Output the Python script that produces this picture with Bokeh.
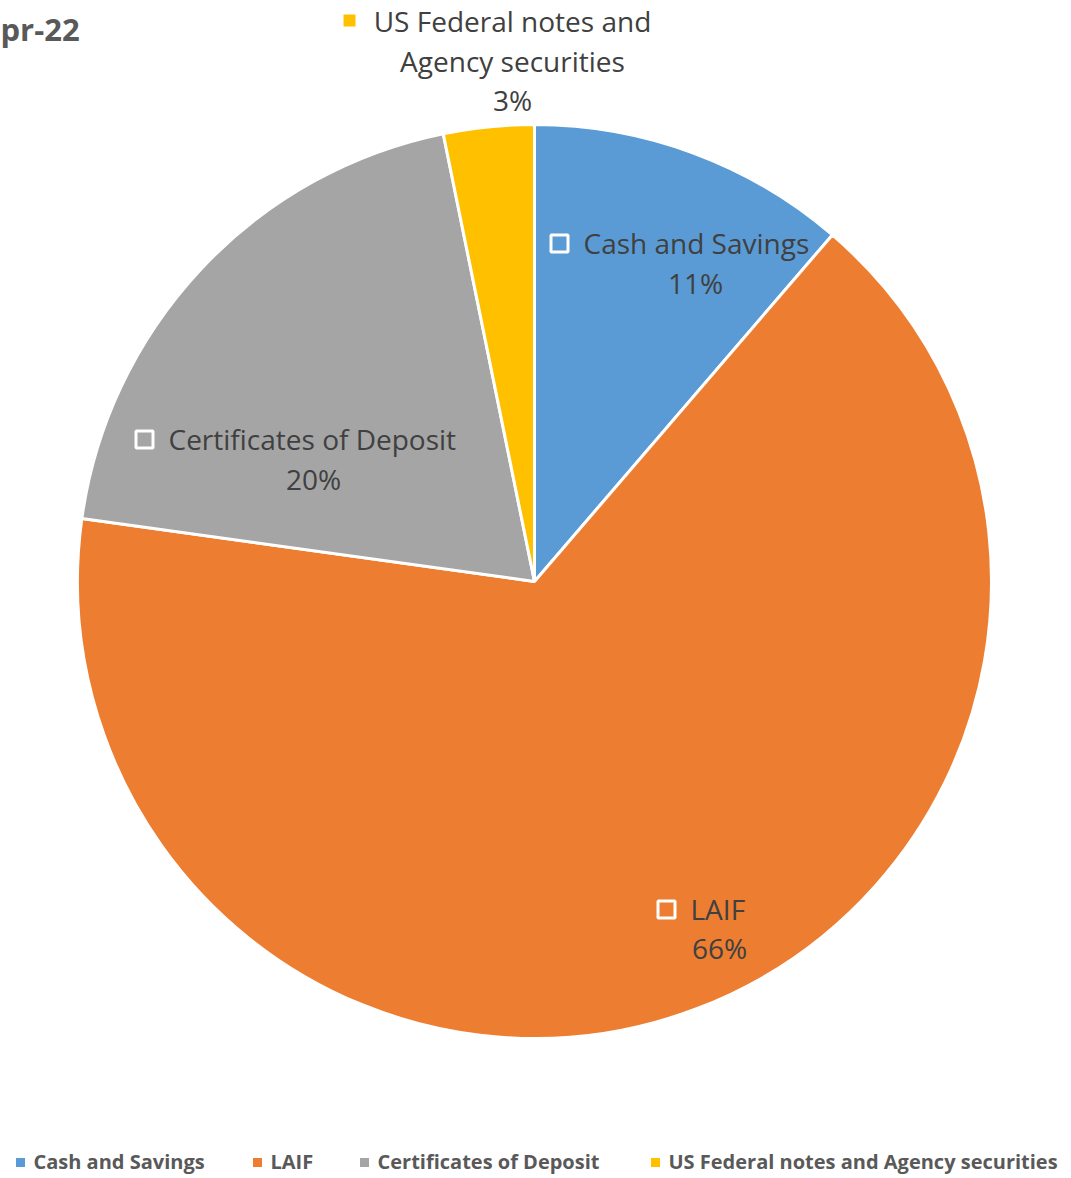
import numpy as np
from bokeh.plotting import figure
from bokeh.models import Range1d
from bokeh.core.properties import value
from bokeh.embed import file_html
from bokeh.resources import INLINE

# ---- data ----
categories = ["Cash and Savings", "LAIF", "Certificates of Deposit",
              "US Federal notes and Agency securities"]
shares = [11.3, 65.9, 19.6, 3.2]          # percent of portfolio
colors = ["#5B9BD5", "#ED7D31", "#A5A5A5", "#FFC000"]
title_visible = "pr-22"

# ---- layout helpers (reference pixel -> data) ----
W, H = 1071, 1178
def X(xr):
    return xr
def Y(yr):
    return H - yr

p = figure(width=W, height=H, x_range=Range1d(0, W), y_range=Range1d(0, H),
           output_backend="svg", toolbar_location=None, min_border=0,
           x_axis_location=None, y_axis_location=None)
p.grid.visible = False
p.outline_line_color = None
p.background_fill_color = "white"

# ---- pie ----
vals = np.array(shares, dtype=float)
cum = np.cumsum(vals) / vals.sum()
prev = np.concatenate([[0.0], cum[:-1]])
start = np.pi / 2 - 2 * np.pi * prev
end = np.pi / 2 - 2 * np.pi * cum
cx, cy, R = X(534), Y(581), 457
p.wedge(x=[cx] * len(vals), y=[cy] * len(vals), radius=R, radius_units="screen",
        start_angle=list(start), end_angle=list(end), direction="clock",
        fill_color=colors, line_color="white", line_width=3)

# ---- data labels ----
font = value("Open Sans")
fs = "28px"
pct = [f"{int(round(v / vals.sum() * 100))}%" for v in vals]
label_lines = [[categories[0]], [categories[1]], [categories[2]],
               ["US Federal notes and", "Agency securities"]]
# layout: (text center x, first line y, line spacing, marker x, inside?)
label_layout = [(695, 242, 40, 559, True),
                (719, 908, 39, 666, True),
                (313, 438, 40, 144, True),
                (512, 20, 40, 349, False)]
for i, (tx, ty, dy, mx, inside) in enumerate(label_layout):
    lines = label_lines[i] + [pct[i]]
    if inside:
        p.text(x=[X(mx + 24)], y=[Y(ty)], text=[lines[0]], text_font=font,
               text_font_size=fs, text_color="#404040",
               text_align="left", text_baseline="middle")
        p.scatter(x=[X(mx)], y=[Y(ty + 1)], marker="square", size=17,
                  fill_color=colors[i], line_color="white", line_width=3)
        p.text(x=[X(tx)], y=[Y(ty + dy)], text=[lines[1]], text_font=font,
               text_font_size=fs, text_color="#404040",
               text_align="center", text_baseline="middle")
    else:
        ys = [Y(ty + k * dy - (1 if k == 2 else 0)) for k in range(len(lines))]
        p.text(x=[X(tx)] * len(lines), y=ys, text=lines, text_font=font,
               text_font_size=fs, text_color="#404040",
               text_align="center", text_baseline="middle")
        p.scatter(x=[X(mx)], y=[Y(ty)], marker="square", size=12,
                  fill_color=colors[i], line_color=None)

# ---- title fragment ----
p.text(x=[X(0)], y=[Y(28)], text=[title_visible], text_font=font,
       text_font_size="31px", text_font_style="bold", text_color="#595959",
       text_align="left", text_baseline="middle")

# ---- legend ----
leg_marker_x = [20, 257, 364, 655]
leg_y = 1161
p.scatter(x=[X(v) for v in leg_marker_x], y=[Y(leg_y + 1)] * 4, marker="square",
          size=9, fill_color=colors, line_color=None)
p.text(x=[X(v + 13) for v in leg_marker_x], y=[Y(leg_y)] * 4, text=categories,
       text_font=font, text_font_size="20px", text_font_style="bold",
       text_color="#595959", text_align="left", text_baseline="middle")

open("out.html", "w").write(file_html(p, INLINE))
